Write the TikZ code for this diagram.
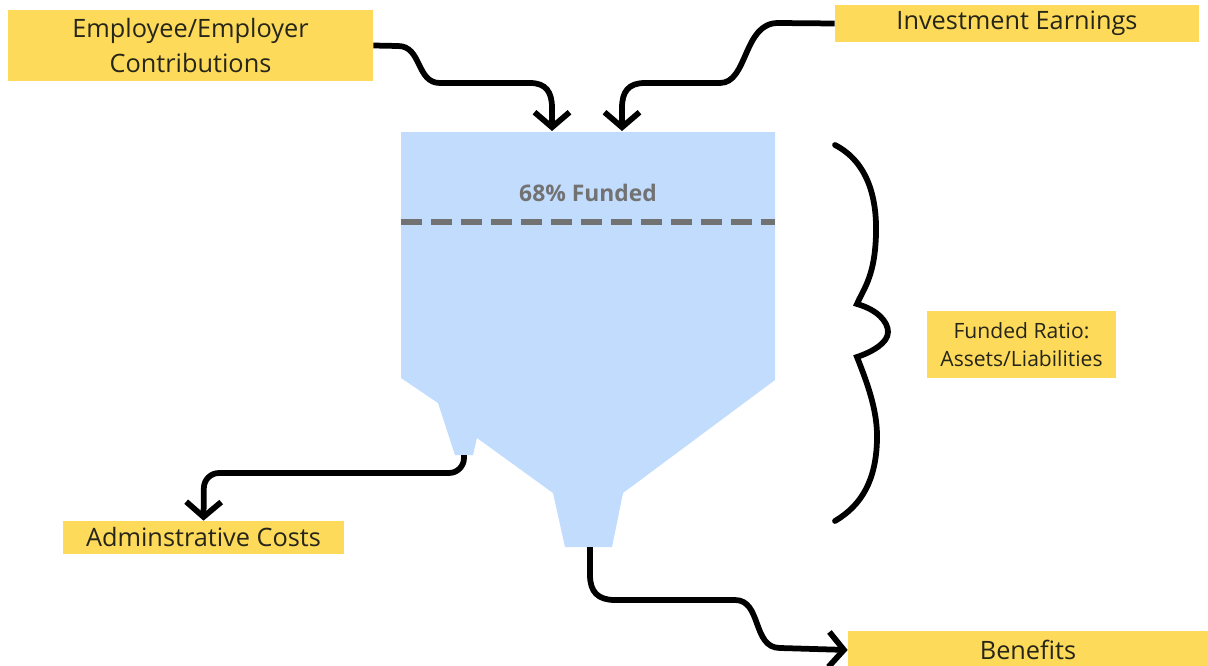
\documentclass[tikz,border=0pt]{standalone}
\usepackage{fontspec}
\setmainfont{Open Sans}
\usetikzlibrary{arrows.meta}
\begin{document}
\begin{tikzpicture}[x=0.02cm, y=-0.02cm,
  tag/.style={fill=tagcol, text=txtcol, align=center, inner sep=0pt, font=\fontsize{14.4}{19.4}\selectfont},
  flow/.style={line width=0.115cm, -{Straight Barb[length=0.3cm, width=0.7cm]}},
  brace/.style={line width=0.115cm, line cap=round}]
\definecolor{tagcol}{HTML}{FDDA5A}
\definecolor{txtcol}{HTML}{26251A}
\definecolor{tankcol}{HTML}{C2DCFE}
\definecolor{levelcol}{HTML}{727272}
\useasboundingbox (0,0) rectangle (1208,666);
% tank
\fill[tankcol] (401,132) -- (775,132) -- (775,380) -- (623,493) -- (612,547) -- (565,547) -- (553,493)
  -- (477,438) -- (473,455) -- (455,455) -- (438,403) -- (401,378) -- cycle;
\draw[levelcol, line width=0.11cm, dash pattern=on 0.42cm off 0.18cm] (401,222) -- (775,222);
\node[text=levelcol, font=\bfseries\fontsize{13}{15}\selectfont] (level) at (588,193) {68\% Funded};
\coordinate (inL) at (552,131);
\coordinate (inR) at (622,131);
\coordinate (nozA) at (464,455);
\coordinate (nozB) at (590,547);
% labels
\node[tag, minimum width=7.3cm, minimum height=1.42cm] (contrib) at (190.5,45.5) {Employee/Employer\\Contributions};
\node[tag, minimum width=7.28cm, minimum height=0.74cm] (invest) at (1017,23.5) {Investment Earnings};
\node[tag, minimum width=3.78cm, minimum height=1.34cm, font=\fontsize{12}{15.6}\selectfont] (ratio) at (1021.5,344.5) {Funded Ratio:\\Assets/Liabilities};
\node[tag, minimum width=5.62cm, minimum height=0.66cm] (admin) at (203.5,537.5) {Adminstrative Costs};
\node[tag, minimum width=7.2cm, minimum height=0.76cm] (benef) at (1028,650) {Benefits};
% flows
\draw[flow] (contrib.east) -- (398,46) .. controls (422,46) and (416,83) .. (440,83) -- (530,83)
  .. controls (546,83) and (552,92) .. (552,108) -- (inL);
\draw[flow] (invest.west) -- (778,23) .. controls (743,23) and (748,83) .. (720,83) -- (645,83)
  .. controls (628,83) and (622,92) .. (622,108) -- (inR);
\draw[flow, rounded corners=0.3cm] (nozA) -- (464,473) -- (204,473) -- (admin.north);
\draw[flow] (nozB) -- (590,575) .. controls (590,592) and (598,600) .. (615,600) -- (735,600)
  .. controls (762,600) and (752,648) .. (780,648) -- (benef.west);
% brace
\draw[brace] (835,145) .. controls (868,162) and (880,200) .. (875,250) .. controls (872,280) and (862,292) .. (857,304)
  .. controls (878,310) and (888,322) .. (888,332) .. controls (888,343) and (872,352) .. (857,357)
  .. controls (866,380) and (878,410) .. (877,440) .. controls (876,480) and (862,505) .. (835,521);
\end{tikzpicture}
\end{document}
